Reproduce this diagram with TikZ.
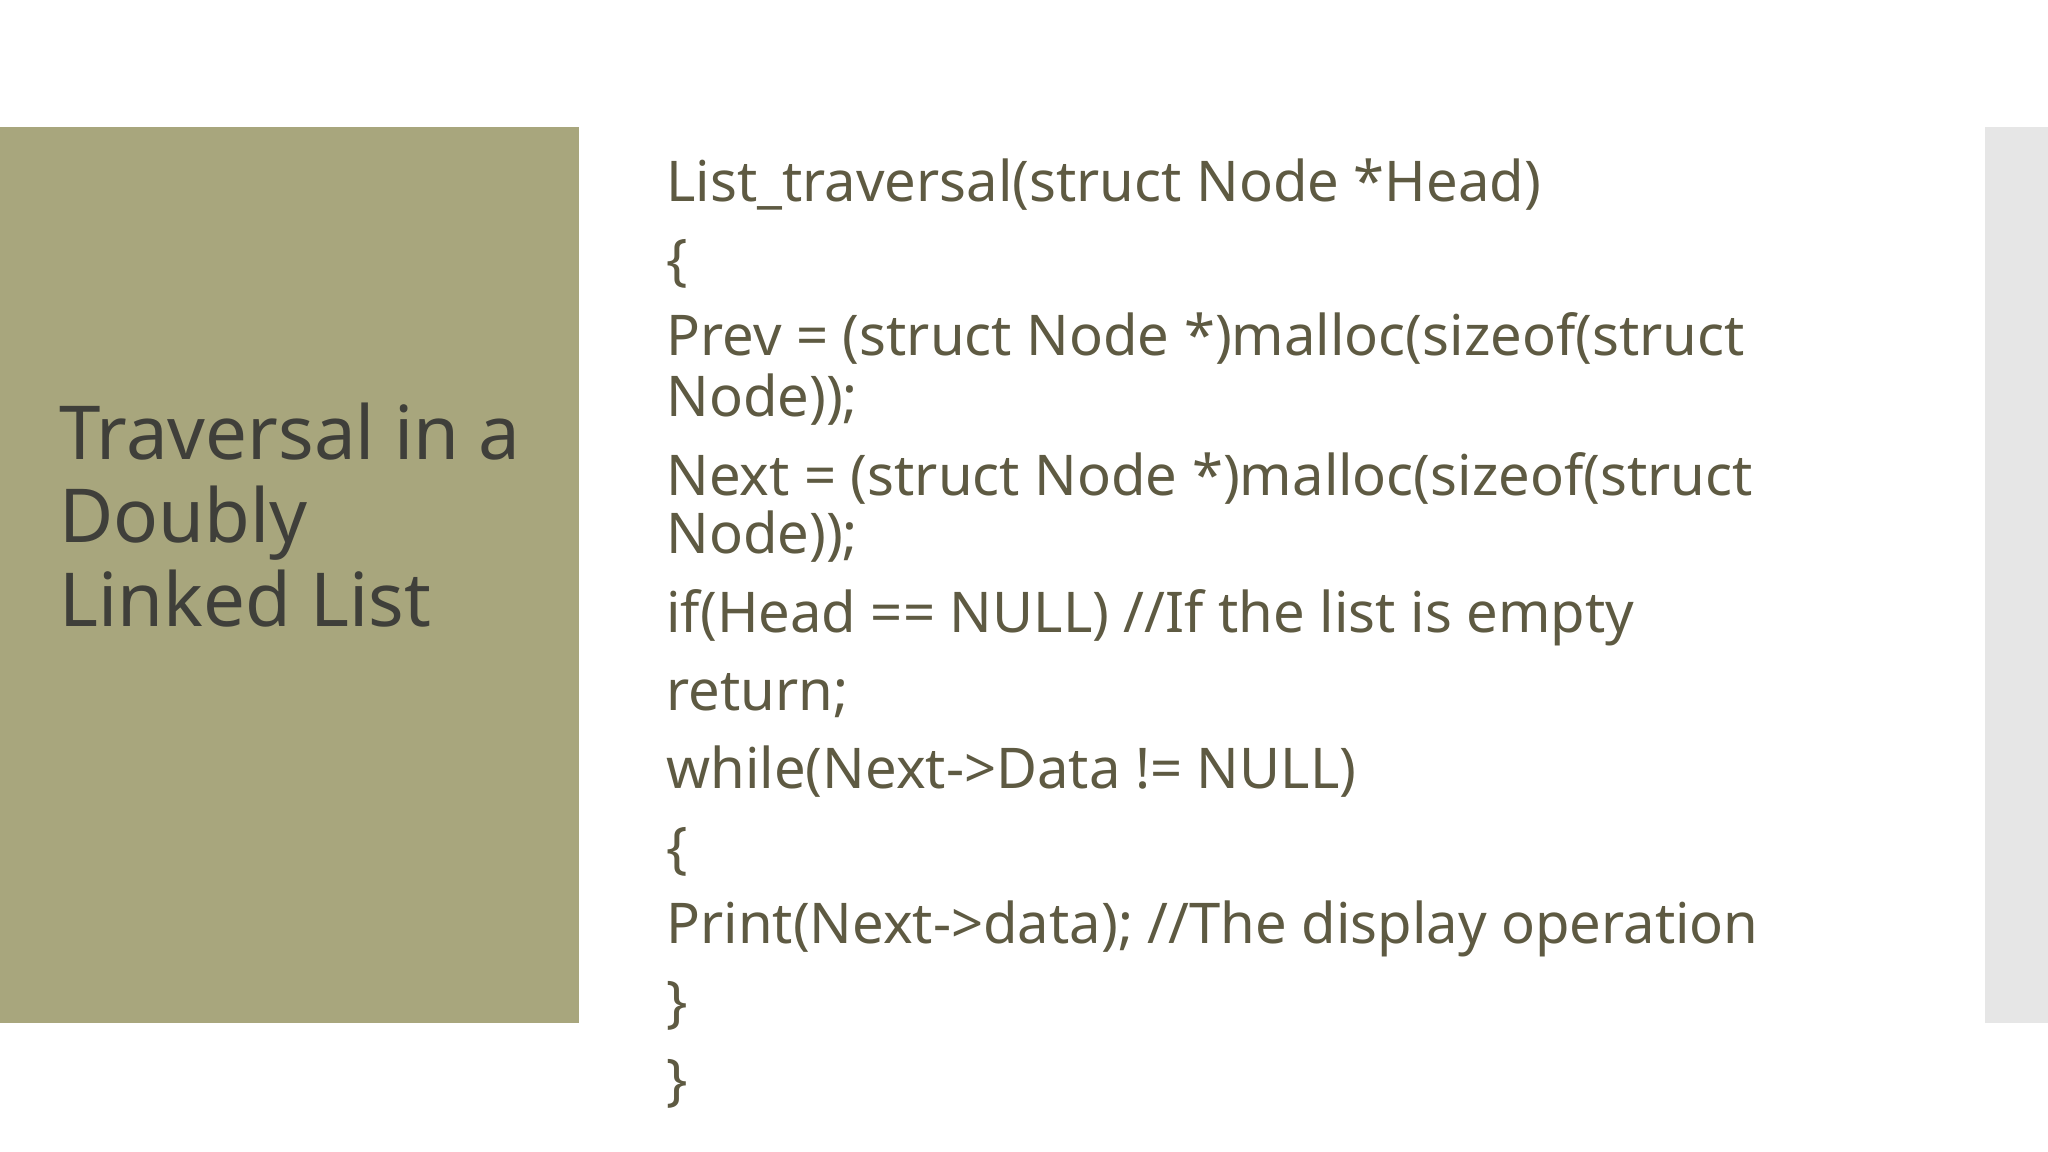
\documentclass[tikz,border=0pt]{standalone}
\usepackage{fontspec}
\setmainfont{Noto Sans}
\definecolor{olive}{HTML}{A8A67D}
\definecolor{codec}{HTML}{5E5A42}
\definecolor{titlec}{HTML}{3F3F3A}
\definecolor{side}{HTML}{E6E6E6}
\begin{document}
\begin{tikzpicture}[x=1pt,y=-1pt,
  code/.style={anchor=base west,inner sep=0pt,text=codec,font=\fontsize{43}{47}\selectfont},
  ttl/.style={anchor=base west,inner sep=0pt,text=titlec,font=\fontsize{57}{63}\selectfont}]
\useasboundingbox (0,0) rectangle (1568,882);
\fill[white] (0,0) rectangle (1568,882);
\fill[olive] (0,97) rectangle (443,783);
\fill[side] (1520,97) rectangle (1568,783);
\node[ttl] (t1) at (45,352) {Traversal in a};
\node[ttl] (t2) at (45,415) {Doubly};
\node[ttl] (t3) at (45,480) {Linked List};
\node[code] (c1) at (510,154) {List\_traversal(struct Node *Head)};
\node[code] (c2) at (510,214) {\{};
\node[code] (c3) at (510,272) {Prev = (struct Node *)malloc(sizeof(struct};
\node[code] (c4) at (510,319) {Node));};
\node[code] (c5) at (510,379) {Next = (struct Node *)malloc(sizeof(struct};
\node[code] (c6) at (510,424) {Node));};
\node[code] (c7) at (510,484) {if(Head == NULL) //If the list is empty};
\node[code] (c8) at (510,544) {return;};
\node[code] (c9) at (510,604) {while(Next->Data != NULL)};
\node[code] (c10) at (510,664) {\{};
\node[code] (c11) at (510,722) {Print(Next->data); //The display operation};
\node[code] (c12) at (510,782) {\}};
\node[code] (c13) at (510,842) {\}};
\end{tikzpicture}
\end{document}
